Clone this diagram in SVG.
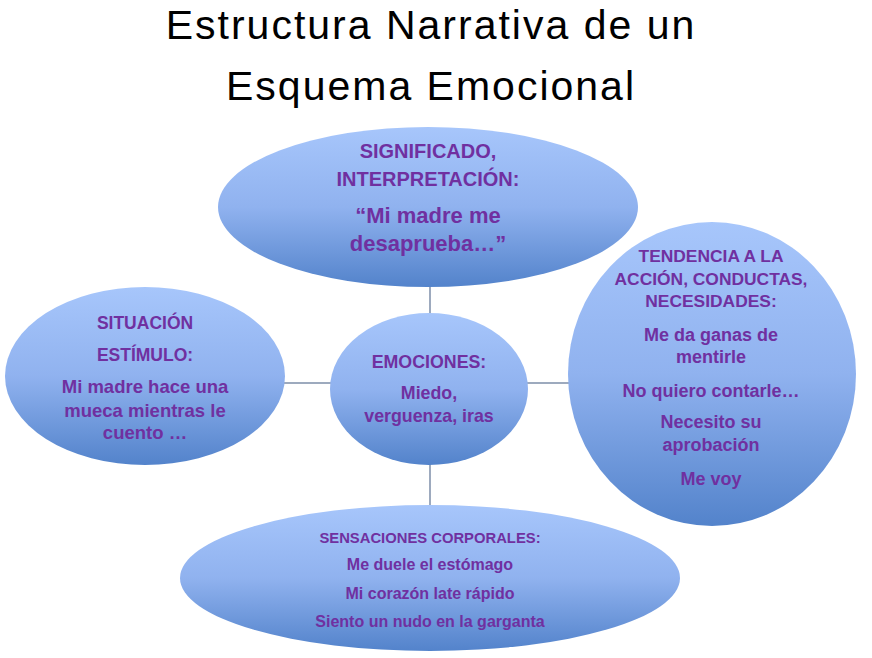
<svg xmlns="http://www.w3.org/2000/svg" width="872" height="658" viewBox="0 0 872 658">
<defs>
<linearGradient id="g" x1="0" y1="0" x2="0" y2="1">
<stop offset="0" stop-color="#a7c6fb"/>
<stop offset="0.5" stop-color="#90b2ef"/>
<stop offset="1" stop-color="#5383cb"/>
</linearGradient>
<style>
.bub{fill:url(#g);}
.con{stroke:#7d8ea8;stroke-width:1.5;fill:none;}
.t{font-family:"Liberation Sans",Arial,sans-serif;font-weight:bold;fill:#7030a0;text-anchor:middle;}
.title{font-family:"Liberation Sans",Arial,sans-serif;font-size:41px;letter-spacing:2px;fill:#000;text-anchor:middle;}
</style>
</defs>
<rect width="872" height="658" fill="#fff"/>
<text class="title" x="431" y="39">Estructura Narrativa de un</text>
<text class="title" x="431" y="100">Esquema Emocional</text>
<g id="connectors">
<line class="con" x1="430" y1="286" x2="430" y2="314"/>
<line class="con" x1="430" y1="464" x2="430" y2="506"/>
<line class="con" x1="284" y1="383" x2="331" y2="383"/>
<line class="con" x1="527" y1="383" x2="569" y2="383"/>
</g>
<g id="significado">
<ellipse class="bub" cx="428" cy="207" rx="210" ry="80"/>
<text class="t" x="428" y="158" font-size="20">SIGNIFICADO,</text>
<text class="t" x="428" y="186" font-size="20">INTERPRETACIÓN:</text>
<text class="t" x="428" y="223" font-size="22">“Mi madre me</text>
<text class="t" x="428" y="251" font-size="22">desaprueba…”</text>
</g>
<g id="situacion">
<ellipse class="bub" cx="145" cy="376" rx="140" ry="89"/>
<text class="t" x="145" y="329" font-size="17.5">SITUACIÓN</text>
<text class="t" x="145" y="361" font-size="17.5">ESTÍMULO:</text>
<text class="t" x="145" y="393" font-size="18.5">Mi madre hace una</text>
<text class="t" x="145" y="417" font-size="18.5">mueca mientras le</text>
<text class="t" x="145" y="439" font-size="18.5">cuento …</text>
</g>
<g id="emociones">
<ellipse class="bub" cx="429" cy="389" rx="99" ry="76"/>
<text class="t" x="429" y="368" font-size="17.8">EMOCIONES:</text>
<text class="t" x="429" y="399" font-size="17.8">Miedo,</text>
<text class="t" x="429" y="422" font-size="17.8">verguenza, iras</text>
</g>
<g id="tendencia">
<ellipse class="bub" cx="712" cy="374" rx="144" ry="152"/>
<text class="t" x="711" y="262" font-size="17.4">TENDENCIA A LA</text>
<text class="t" x="711" y="285" font-size="17.4">ACCIÓN, CONDUCTAS,</text>
<text class="t" x="711" y="307" font-size="17.4">NECESIDADES:</text>
<text class="t" x="711" y="341" font-size="18">Me da ganas de</text>
<text class="t" x="711" y="363" font-size="18">mentirle</text>
<text class="t" x="711" y="397" font-size="18">No quiero contarle…</text>
<text class="t" x="711" y="428" font-size="18">Necesito su</text>
<text class="t" x="711" y="451" font-size="18">aprobación</text>
<text class="t" x="711" y="485" font-size="18">Me voy</text>
</g>
<g id="sensaciones">
<ellipse class="bub" cx="430" cy="578" rx="250" ry="73"/>
<text class="t" x="430" y="543" font-size="14.8">SENSACIONES CORPORALES:</text>
<text class="t" x="430" y="570" font-size="16">Me duele el estómago</text>
<text class="t" x="430" y="599" font-size="16">Mi corazón late rápido</text>
<text class="t" x="430" y="627" font-size="16">Siento un nudo en la garganta</text>
</g>
</svg>
